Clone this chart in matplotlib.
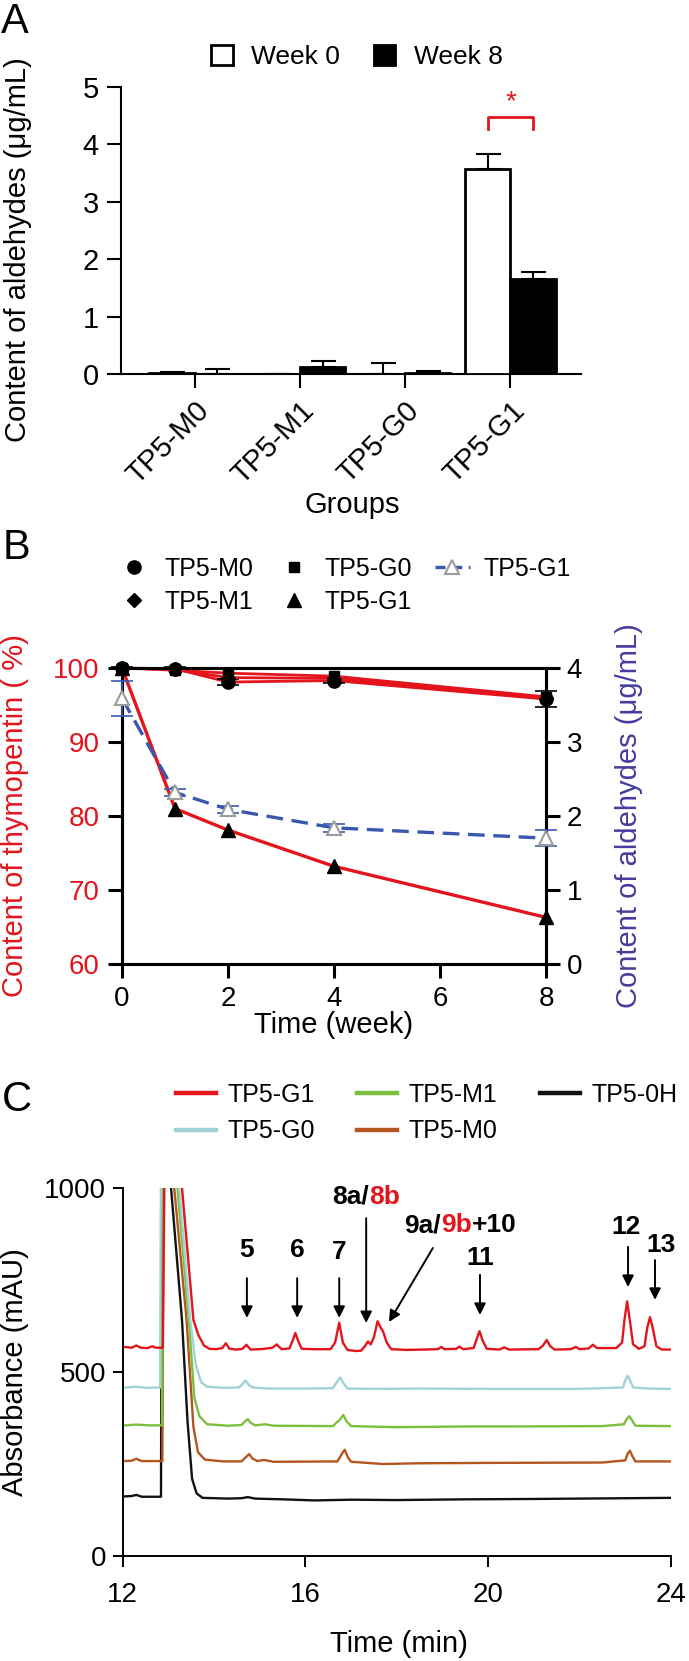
import numpy as np
import matplotlib
matplotlib.use("Agg")
import matplotlib.pyplot as plt
from matplotlib.lines import Line2D

plt.rcParams['font.family'] = ['Liberation Sans', 'DejaVu Sans']

W, H = 689, 1661

# ---------------- data ----------------
# panel A
groups = ['TP5-M0', 'TP5-M1', 'TP5-G0', 'TP5-G1']
week0 = [0.02, 0.005, 0.0, 3.58]
week0_err = [0.01, 0.0, 0.19, 0.25]
week8 = [0.0, 0.13, 0.02, 1.65]
week8_err = [0.09, 0.09, 0.04, 0.13]

# panel B
weeks = [0, 1, 2, 4, 8]
tp_m0 = [100, 99.9, 98.1, 98.3, 95.8]
tp_m1 = [100, 99.8, 98.7, 98.6, 96.0]
tp_g0 = [100, 99.7, 99.3, 98.9, 96.1]
tp_g1 = [100, 81.0, 78.1, 73.2, 66.3]
tp_m0_err = [0.2, 0.2, 0.4, 0.3, 1.1]
ald_g1 = [3.59, 2.32, 2.09, 1.84, 1.70]
ald_g1_err = [0.24, 0.05, 0.05, 0.05, 0.11]

# panel C (chromatograms, time in min / absorbance in mAU)
red_t = [12.05, 12.2, 12.3, 12.4, 12.55, 12.65, 12.72, 12.88, 12.92, 13.25, 13.30, 13.55, 13.66,
         13.78, 13.9, 14.05, 14.18, 14.26, 14.34, 14.5, 14.62, 14.71, 14.8, 15.0, 15.1, 15.28,
         15.37, 15.48, 15.65, 15.72, 15.78, 15.84, 15.92, 16.2, 16.55, 16.65, 16.74, 16.82, 16.92,
         17.1, 17.22, 17.3, 17.37, 17.43, 17.5, 17.58, 17.65, 17.7, 17.78, 17.88, 18.2, 18.6,
         18.9, 18.97, 19.05, 19.3, 19.37, 19.45, 19.68, 19.75, 19.81, 19.88, 19.97, 20.25, 20.35,
         20.45, 21.1, 21.2, 21.28, 21.36, 21.45, 21.8, 21.92, 22.0, 22.2, 22.29, 22.38, 22.8,
         22.93, 22.98, 23.04, 23.1, 23.17, 23.3, 23.42, 23.48, 23.54, 23.6, 23.68, 23.8, 24.0]
red_v = [568, 566, 572, 566, 565, 570, 566, 566, 1100, 1100, 1000, 641, 600,
         572, 563, 562, 565, 578, 563, 561, 563, 574, 561, 562, 563, 566,
         575, 562, 564, 585, 606, 585, 563, 562, 562, 580, 634, 580, 560,
         557, 558, 570, 583, 575, 595, 638, 620, 610, 580, 562, 560, 561,
         562, 568, 562, 563, 569, 562, 565, 590, 611, 585, 563, 561, 567,
         561, 562, 572, 587, 570, 561, 562, 568, 562, 564, 574, 565, 565,
         580, 640, 692, 640, 575, 563, 570, 620, 649, 620, 570, 561, 561]

cyan_t = [12.05, 12.3, 12.5, 12.82, 12.84, 13.18, 13.24, 13.48, 13.6, 13.72, 13.85, 14.2, 14.55,
          14.63, 14.69, 14.76, 14.85, 15.2, 16.0, 16.6, 16.7, 16.76, 16.83, 16.92, 17.5, 18.5,
          20.0, 22.0, 22.95, 23.0, 23.05, 23.1, 23.17, 23.5, 24.0]
cyan_v = [458, 460, 457, 458, 1100, 1100, 1000, 641, 520, 472, 460, 457, 458,
          468, 477, 465, 458, 455, 455, 456, 475, 485, 470, 455, 454, 455,
          454, 454, 458, 478, 490, 478, 458, 455, 454]

green_t = [12.05, 12.3, 12.6, 12.86, 12.89, 13.15, 13.2, 13.45, 13.57, 13.68, 13.85, 14.3, 14.6,
           14.68, 14.74, 14.8, 14.9, 15.12, 15.3, 16.6, 16.75, 16.83, 16.9, 17.0, 18.0, 19.5,
           20.5, 22.5, 22.97, 23.03, 23.09, 23.15, 23.22, 24.0]
green_v = [355, 357, 355, 355, 1100, 1100, 1000, 641, 430, 380, 358, 354, 356,
           366, 372, 362, 355, 358, 354, 353, 370, 383, 366, 353, 350, 352,
           352, 353, 358, 372, 380, 368, 354, 353]

brown_t = [12.05, 12.2, 12.3, 12.42, 12.87, 12.90, 13.08, 13.13, 13.40, 13.55, 13.65, 13.8, 14.2,
           14.6, 14.71, 14.77, 14.84, 14.95, 15.1, 15.3, 16.7, 16.8, 16.86, 16.93, 17.0, 17.7,
           18.5, 20.0, 22.5, 23.0, 23.05, 23.1, 23.16, 23.22, 24.0]
brown_v = [258, 259, 264, 258, 258, 1100, 1100, 1000, 641, 350, 282, 262, 257,
           257, 270, 277, 265, 258, 261, 256, 257, 278, 289, 268, 256, 250,
           252, 253, 254, 260, 278, 286, 270, 257, 257]

black_t = [12.05, 12.2, 12.3, 12.42, 12.84, 12.86, 13.02, 13.06, 13.30, 13.42, 13.52, 13.62, 13.75,
           14.3, 14.6, 14.74, 14.9, 15.5, 16.2, 17.0, 18.0, 19.5, 21.0, 23.0, 24.0]
black_v = [162, 163, 166, 161, 161, 1100, 1100, 1000, 641, 367, 210, 170, 158,
           156, 157, 160, 156, 154, 151, 153, 152, 154, 155, 157, 158]

fig = plt.figure(figsize=(W / 100, H / 100), dpi=100)

def fx(px):
    return px / W

def fy(py):
    return 1 - py / H

red = '#e3141c'

# ================= panel A =================
axA = fig.add_axes([fx(121), fy(374), (581 - 121) / W, (374 - 87) / H])
x = np.arange(len(groups))
w = 0.43
axA.bar(x - w / 2, week0, w, facecolor='white', edgecolor='black', linewidth=2, label='Week 0', zorder=3)
axA.bar(x + w / 2, week8, w, facecolor='black', edgecolor='black', linewidth=2, label='Week 8', zorder=3)
axA.errorbar(x - w / 2, week0, yerr=[np.zeros(4), week0_err], fmt='none', ecolor='black',
             elinewidth=1.5, capsize=9, capthick=1.5, zorder=2)
axA.errorbar(x + w / 2, week8, yerr=[np.zeros(4), week8_err], fmt='none', ecolor='black',
             elinewidth=1.5, capsize=9, capthick=1.5, zorder=2)
axA.plot([3 - w / 2, 3 - w / 2, 3 + w / 2, 3 + w / 2], [4.26, 4.48, 4.48, 4.26], color=red, lw=2)
axA.text(3, 4.5, '*', color=red, fontsize=20, ha='center', va='bottom')
axA.set_xlim(-0.70, 3.67)
axA.set_ylim(0, 5)
axA.set_yticks([0, 1, 2, 3, 4, 5])
axA.set_xticks(x)
axA.set_xticklabels(groups, rotation=45, ha='right', rotation_mode='anchor')
for s in ['top', 'right']:
    axA.spines[s].set_visible(False)
for s in ['left', 'bottom']:
    axA.spines[s].set_linewidth(1.5)
axA.tick_params(axis='both', direction='out', length=10, width=1.5, labelsize=21, pad=6)
axA.set_ylabel('Content of aldehydes (μg/mL)', fontsize=21, va='center')
axA.yaxis.set_label_coords((18 - 121) / 460, (374 - 250) / 287)
axA.set_xlabel('Groups', fontsize=21, va='center')
axA.xaxis.set_label_coords((352 - 121) / 460, (374 - 505) / 287)
axA.legend(loc='center', bbox_to_anchor=(fx(357), fy(57)), bbox_transform=fig.transFigure,
           ncol=2, frameon=False, handlelength=0.8, handleheight=0.8, handletextpad=0.7,
           columnspacing=1.3, fontsize=19, borderpad=0)
fig.text(fx(1), fy(2), 'A', fontsize=30, ha='left', va='top')

# ================= panel B =================
axB = fig.add_axes([fx(122), fy(964), (546 - 122) / W, (964 - 668) / H])
axB.plot(weeks, tp_m0, color=red, lw=2, marker='o', ms=9.5, mfc='black', mec='black', clip_on=False, zorder=4)
axB.errorbar(weeks, tp_m0, yerr=tp_m0_err, fmt='none', ecolor='black', elinewidth=1.2,
             capsize=8, capthick=1.2, clip_on=False, zorder=4)
axB.plot(weeks, tp_m1, color=red, lw=2, marker='D', ms=7, mfc='black', mec='black', clip_on=False, zorder=4)
axB.plot(weeks, tp_g0, color=red, lw=2, marker='s', ms=7.5, mfc='black', mec='black', clip_on=False, zorder=4)
axB.plot(weeks, tp_g1, color=red, lw=2.4, marker='^', ms=9.5, mfc='black', mec='black', clip_on=False, zorder=4)
axB.set_xlim(0, 8)
axB.set_ylim(60, 100)
axB.set_xticks([0, 2, 4, 6, 8])
axB.set_yticks([60, 70, 80, 90, 100])
axB.tick_params(axis='both', direction='out', length=10, width=2.2, labelsize=20, pad=6)
axB.tick_params(axis='y', labelcolor=red)
for s in axB.spines.values():
    s.set_linewidth(2.2)
axB.set_ylabel('Content of thymopentin ( %)', fontsize=21, color=red, va='center')
axB.yaxis.set_label_coords((15 - 122) / 424, 0.5)
axB.set_xlabel('Time (week)', fontsize=21, va='center')
axB.xaxis.set_label_coords(0.5, (964 - 1025) / 296)

axB2 = axB.twinx()
axB2.set_position([fx(122), fy(964), (546 - 122) / W, (964 - 668) / H])
blue = '#3a57b0'
axB2.errorbar(weeks, ald_g1, yerr=ald_g1_err, fmt='none', ecolor=blue, elinewidth=1.2,
              capsize=8, capthick=1.2, clip_on=False, zorder=3)
axB2.plot(weeks, ald_g1, color=blue, lw=2.4, ls=(0, (5, 2.6)), marker='^', ms=10, mfc='white',
          mec='#9c9c9c', mew=1.5, clip_on=False, zorder=4)
axB2.set_ylim(0, 4)
axB2.set_yticks([0, 1, 2, 3, 4])
axB2.tick_params(axis='y', direction='out', length=10, width=2.2, labelsize=20, pad=5)
for s in axB2.spines.values():
    s.set_linewidth(2.2)
axB2.set_ylabel('Content of aldehydes (μg/mL)', fontsize=21, color='#453c9c', va='center', rotation=90)
axB2.yaxis.set_label_coords((629 - 122) / 424, 0.5)

hB = [Line2D([], [], ls='none', marker='o', ms=9.5, color='black'),
      Line2D([], [], ls='none', marker='D', ms=7, color='black'),
      Line2D([], [], ls='none', marker='s', ms=7.5, color='black'),
      Line2D([], [], ls='none', marker='^', ms=9.5, color='black'),
      Line2D([], [], color=blue, lw=2.4, ls=(0, (3, 2)), marker='^', ms=10, mfc='white',
             mec='#9c9c9c', mew=1.5)]
lB = ['TP5-M0', 'TP5-M1', 'TP5-G0', 'TP5-G1', 'TP5-G1']
axB.legend(hB, lB, loc='upper left', bbox_to_anchor=(fx(116), fy(557)), bbox_transform=fig.transFigure,
           ncol=3, frameon=False, fontsize=18, handlelength=1.4, handletextpad=0.55,
           columnspacing=0.9, labelspacing=0.35, borderpad=0, borderaxespad=0)
fig.text(fx(3), fy(528), 'B', fontsize=30, ha='left', va='top')

# ================= panel C =================
axC = fig.add_axes([fx(122.6), fy(1556), (671 - 122.6) / W, (1556 - 1188) / H])
traces = [('TP5-0H', black_t, black_v, '#111111'),
          ('TP5-M0', brown_t, brown_v, '#b3561f'),
          ('TP5-M1', green_t, green_v, '#7cbf3f'),
          ('TP5-G0', cyan_t, cyan_v, '#9fd3d5'),
          ('TP5-G1', red_t, red_v, red)]
lines = {}
for name, t, v, c in traces:
    lines[name], = axC.plot(t, v, color=c, lw=1.7, label=name, solid_joinstyle='round')
axC.set_xlim(12, 24)
axC.set_ylim(0, 1000)
axC.set_xticks([12, 16, 20, 24])
axC.set_yticks([0, 500, 1000])
for s in ['top', 'right']:
    axC.spines[s].set_visible(False)
for s in ['left', 'bottom']:
    axC.spines[s].set_linewidth(1.4)
axC.tick_params(axis='y', direction='out', length=7, width=1.4, labelsize=20, pad=5)
axC.tick_params(axis='x', direction='out', length=8, width=1.4, labelsize=20, pad=11)
axC.set_ylabel('Absorbance (mAU)', fontsize=21, va='center')
axC.yaxis.set_label_coords((15 - 122.6) / 548.4, 0.5)
axC.set_xlabel('Time (min)', fontsize=21, va='center')
axC.xaxis.set_label_coords(0.504, (1556 - 1644) / 368)

order = ['TP5-G1', 'TP5-G0', 'TP5-M1', 'TP5-M0', 'TP5-0H']
hC = [Line2D([], [], color=lines[n].get_color(), lw=3.2) for n in order]
axC.legend(hC, order, loc='upper left', bbox_to_anchor=(fx(176), fy(1083)), bbox_transform=fig.transFigure,
           ncol=3, frameon=False, fontsize=18, handlelength=1.6, handletextpad=0.45,
           columnspacing=1.7, labelspacing=0.5, borderpad=0, borderaxespad=0)
fig.text(fx(2), fy(1080), 'C', fontsize=30, ha='left', va='top')

# peak annotations
akw = dict(arrowstyle='-|>', color='black', lw=1.4, mutation_scale=17, shrinkA=0, shrinkB=0)
simple = [('5', 14.72, 832, 14.72, 755, 647),
          ('6', 15.82, 832, 15.82, 755, 647),
          ('7', 16.74, 825, 16.74, 755, 647),
          ('11', 19.82, 810, 19.82, 764, 655),
          ('12', 23.02, 894, 23.06, 840, 731),
          ('13', 23.78, 845, 23.65, 804, 696)]
for lab, tx, ty, ax_, y0, y1 in simple:
    axC.text(tx, ty, lab, fontsize=19, fontweight='bold', ha='center', va='center')
    axC.annotate('', xy=(ax_, y1), xytext=(ax_, y0), arrowprops=akw)

t8 = axC.text(16.59, 976, '8a/', fontsize=19, fontweight='bold', ha='left', va='center')
axC.annotate('8b', xy=(1, 0), xycoords=t8, fontsize=19, fontweight='bold', color=red, ha='left', va='bottom')
axC.annotate('', xy=(17.33, 633), xytext=(17.33, 918), arrowprops=akw)

t9 = axC.text(18.16, 899, '9a/', fontsize=19, fontweight='bold', ha='left', va='center')
t9b = axC.annotate('9b', xy=(1, 0), xycoords=t9, fontsize=19, fontweight='bold', color=red, ha='left', va='bottom')
axC.annotate('+10', xy=(1, 0), xycoords=t9b, fontsize=19, fontweight='bold', ha='left', va='bottom')
axC.annotate('', xy=(17.83, 636), xytext=(18.79, 837), arrowprops=akw)

fig.savefig('out.png', dpi=100)
